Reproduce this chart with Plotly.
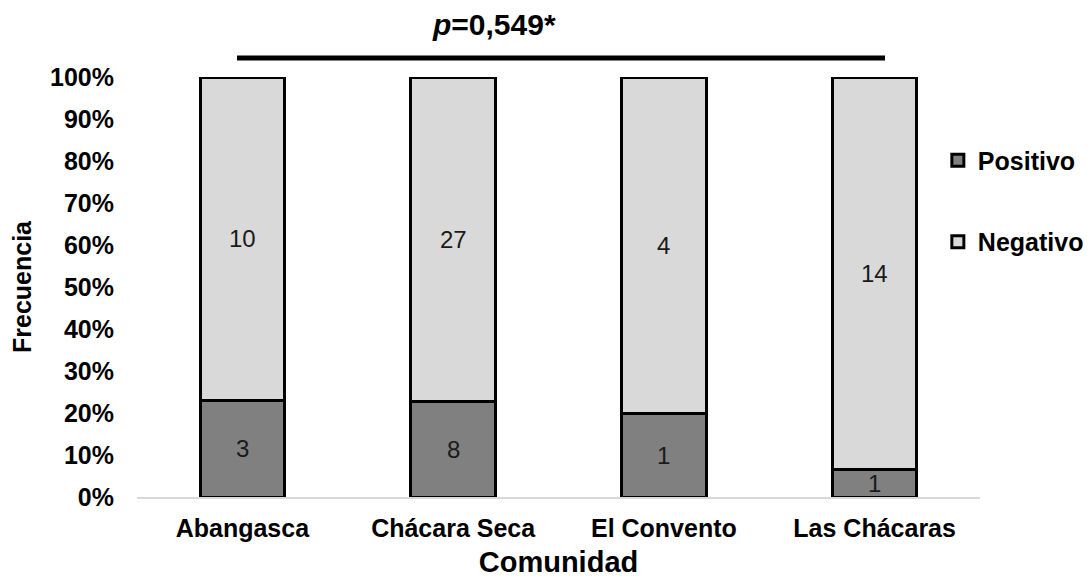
import plotly.graph_objects as go

categories = ["Abangasca", "Chácara Seca", "El Convento", "Las Chácaras"]
positivo = [3, 8, 1, 1]
negativo = [10, 27, 4, 14]
y_ticks = [0, 10, 20, 30, 40, 50, 60, 70, 80, 90, 100]
y_ticktext = [f"{v}%" for v in y_ticks]

FONT = "Liberation Sans, Arial, sans-serif"

fig = go.Figure()
fig.add_trace(go.Bar(
    name="Positivo", x=categories, y=positivo,
    marker=dict(color="#808080", line=dict(color="black", width=3)),
    cliponaxis=False, legendgroup="pos",
))
fig.add_trace(go.Bar(
    name="Negativo", x=categories, y=negativo,
    marker=dict(color="#d9d9d9", line=dict(color="black", width=3)),
    cliponaxis=False, legendgroup="neg",
))

# segment labels (counts) placed at the middle of each normalised segment
labels = []
for cat, p, n in zip(categories, positivo, negativo):
    total = p + n
    labels.append(dict(x=cat, y=p / total * 50, text=str(p)))
    labels.append(dict(x=cat, y=(p + n / 2) / total * 100, text=str(n)))
annotations = [dict(x=l["x"], y=l["y"], text=l["text"], xref="x", yref="y",
                    showarrow=False, xanchor="center", yanchor="middle",
                    font=dict(family=FONT, size=24, color="#1a1a1a"))
               for l in labels]
annotations.append(dict(
    text="<b><i>p</i>=0,549*</b>", xref="paper", yref="paper",
    x=0.4235, y=1.126, xanchor="center", yanchor="middle",
    showarrow=False, font=dict(size=30, family=FONT, color="black"),
))

fig.update_layout(
    width=1084, height=573,
    barmode="stack", barnorm="percent", bargap=0.6,
    plot_bgcolor="white", paper_bgcolor="white",
    margin=dict(l=129, r=112, t=69, b=84, autoexpand=False),
    font=dict(family=FONT, color="black"),
    showlegend=True,
    legend=dict(
        x=0.950, y=0.856, xanchor="left", yanchor="top",
        traceorder="grouped", tracegroupgap=46, itemwidth=30,
        font=dict(size=25, family=FONT, weight="bold"),
        bgcolor="rgba(0,0,0,0)",
    ),
    xaxis=dict(
        showline=True, linecolor="#d9d9d9", linewidth=2, layer="below traces",
        showgrid=False, ticks="", ticklabelstandoff=8,
        tickfont=dict(size=25, family=FONT, weight="bold"),
        title=dict(text="Comunidad", font=dict(size=29, family=FONT, weight="bold"), standoff=11),
        automargin=False,
    ),
    yaxis=dict(
        range=[0, 100], showline=False, showgrid=False, zeroline=False,
        tickvals=y_ticks, ticktext=y_ticktext, ticks="", ticklabelstandoff=22,
        tickfont=dict(size=25, family=FONT, weight="bold"),
        title=dict(text="Frecuencia", font=dict(size=25, family=FONT, weight="bold"), standoff=12),
        automargin=False,
    ),
    shapes=[dict(type="line", xref="paper", yref="paper",
                 x0=0.1186, x1=0.8873, y0=1.045, y1=1.045,
                 line=dict(color="black", width=5))],
    annotations=annotations,
)

fig.write_html("out.html")
